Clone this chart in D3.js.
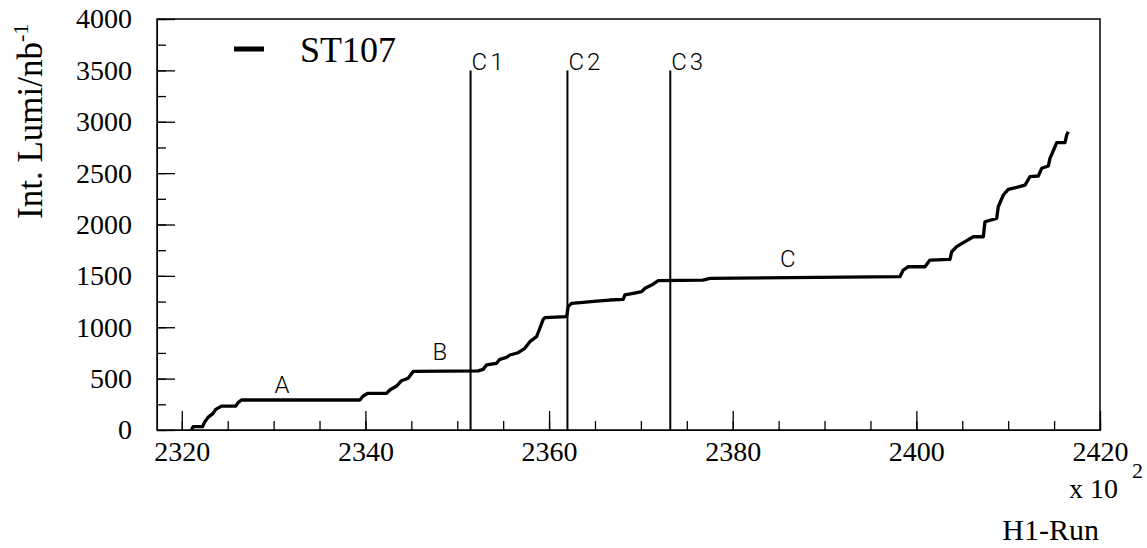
<!DOCTYPE html>
<html>
<head>
<meta charset="utf-8">
<script src="https://cdn.jsdelivr.net/npm/d3@7"></script>
<style>
  body { margin: 0; background: white; }
  svg { display: block; }
</style>
</head>
<body>
<svg id="chart" width="1147" height="548"></svg>
<script>
// H1 run number (x 100) and integrated luminosity (nb^-1)
var runs = [2321.06, 2321.23, 2322.25, 2322.51, 2322.86, 2323.41, 2323.70, 2324.32, 2325.88, 2326.13,
            2326.50, 2339.39, 2339.75, 2340.29, 2342.30, 2342.66, 2343.39, 2343.93, 2344.65, 2345.20,
            2352.28, 2352.82, 2353.19, 2354.28, 2354.64, 2355.37, 2355.73, 2356.63, 2357.36, 2357.91,
            2358.64, 2358.92, 2359.36, 2359.54, 2361.91, 2362.08, 2362.45, 2363.71, 2365.17, 2366.62,
            2368.07, 2368.26, 2369.16, 2370.08, 2370.44, 2371.17, 2371.89, 2376.75, 2377.52, 2398.21,
            2398.57, 2399.12, 2400.94, 2401.48, 2403.66, 2403.85, 2404.39, 2405.30, 2406.20, 2407.29,
            2407.47, 2408.75, 2408.92, 2409.47, 2410.01, 2410.93, 2411.83, 2412.37, 2413.28, 2413.65,
            2414.37, 2414.55, 2415.10, 2415.28, 2416.19, 2416.37, 2416.55];
var lumi = [0, 32, 32, 81, 123, 162, 201, 233, 233, 266,
            292, 292, 331, 357, 357, 389, 428, 480, 503, 570,
            575, 590, 633, 649, 688, 707, 730, 752, 795, 860,
            908, 973, 1077, 1093, 1103, 1200, 1233, 1242, 1255, 1265,
            1272, 1314, 1330, 1346, 1379, 1411, 1453, 1458, 1476, 1492,
            1557, 1589, 1589, 1654, 1661, 1735, 1784, 1833, 1881, 1881,
            2027, 2060, 2173, 2287, 2342, 2362, 2384, 2465, 2472, 2547,
            2569, 2644, 2757, 2796, 2796, 2871, 2903];

// period cuts
var cutNames = ["C1", "C2", "C3"];
var cutRuns = [2351.45, 2362.0, 2373.2];
var cutTop = 3500;

// period labels
var periodNames = ["A", "B", "C"];
var periodRuns = [2330.9, 2348.1, 2386.0];
var periodLumi = [360, 681, 1586];

var xMajor = [2320, 2340, 2360, 2380, 2400, 2420];
var yMajor = [0, 500, 1000, 1500, 2000, 2500, 3000, 3500, 4000];

var chart = d3.select("#chart");
var padL = 157, padT = 19, padR = 1100, padB = 430;

var xScale = d3.scaleLinear()
    .domain([2317.3, 2420])
    .range([padL, padR]);

var yScale = d3.scaleLinear()
    .domain([0, 4000])
    .range([padB, padT]);

var serif = "'Liberation Serif', 'Times New Roman', serif";
var sans = "Roboto, 'Liberation Sans', sans-serif";

// minor ticks
chart.append("g")
    .attr("transform", "translate(0," + padB + ")")
    .call(d3.axisBottom(xScale).tickValues(d3.range(2320, 2421, 5)).tickSize(-9).tickFormat(""))
    .call(g => g.select(".domain").remove());
chart.append("g")
    .attr("transform", "translate(" + padL + ",0)")
    .call(d3.axisLeft(yScale).tickValues(d3.range(0, 4001, 250)).tickSize(-9).tickFormat(""))
    .call(g => g.select(".domain").remove());

// major ticks with labels
var xAxis = chart.append("g")
    .attr("transform", "translate(0," + padB + ")")
    .call(d3.axisBottom(xScale).tickValues(xMajor).tickSize(-19).tickPadding(11).tickFormat(d3.format("d")));
var yAxis = chart.append("g")
    .attr("transform", "translate(" + padL + ",0)")
    .call(d3.axisLeft(yScale).tickValues(yMajor).tickSize(-18).tickPadding(25).tickFormat(d3.format("d")));

chart.selectAll(".tick line").attr("stroke", "#000").attr("stroke-width", 1.3);
chart.selectAll(".tick text")
    .style("font-family", serif)
    .style("font-size", "28px")
    .attr("fill", "#000");
xAxis.selectAll(".tick text").attr("dy", "0.7em");

// frame
chart.append("rect")
    .attr("x", padL)
    .attr("y", padT)
    .attr("width", padR - padL)
    .attr("height", padB - padT)
    .attr("fill", "none")
    .attr("stroke", "#000")
    .attr("stroke-width", 1.5);

// luminosity curve
var points = runs.map(function(r, i) { return [r, lumi[i]]; });
var line = d3.line()
    .x(function(d) { return xScale(d[0]); })
    .y(function(d) { return yScale(d[1]); });

chart.append("path")
    .datum(points)
    .attr("d", line)
    .attr("fill", "none")
    .attr("stroke", "#000")
    .attr("stroke-width", 3.3)
    .attr("stroke-linejoin", "round");

// cut lines
chart.selectAll(".cut")
    .data(cutRuns).enter()
        .append("line")
            .attr("class", "cut")
            .attr("x1", function(d) { return xScale(d); })
            .attr("x2", function(d) { return xScale(d); })
            .attr("y1", yScale(0))
            .attr("y2", yScale(cutTop))
            .attr("stroke", "#000")
            .attr("stroke-width", 2);

chart.selectAll(".cutlabel")
    .data(cutNames).enter()
        .append("text")
            .attr("class", "cutlabel")
            .text(function(d) { return d; })
            .attr("x", function(d, i) { return xScale(cutRuns[i]) + 1; })
            .attr("y", yScale(cutTop))
            .style("font-family", sans)
            .style("font-weight", 300)
            .style("font-size", "24px")
            .style("letter-spacing", "3px");

chart.selectAll(".period")
    .data(periodNames).enter()
        .append("text")
            .attr("class", "period")
            .text(function(d) { return d; })
            .attr("x", function(d, i) { return xScale(periodRuns[i]); })
            .attr("y", function(d, i) { return yScale(periodLumi[i]); })
            .style("text-anchor", "middle")
            .style("font-family", sans)
            .style("font-weight", 300)
            .style("font-size", "24px");

// legend
chart.append("line")
    .attr("x1", 234).attr("x2", 264)
    .attr("y1", 49).attr("y2", 49)
    .attr("stroke", "#000")
    .attr("stroke-width", 5);
chart.append("text")
    .text("ST107")
    .attr("x", 300)
    .attr("y", 62)
    .style("font-family", serif)
    .style("font-size", "36px");

// axis titles
var ytitle = chart.append("text")
    .attr("transform", "translate(42,219) rotate(-90)")
    .style("font-family", serif)
    .style("font-size", "35px");
ytitle.append("tspan").text("Int. Lumi/nb");
ytitle.append("tspan").text("-1").attr("dy", -14).style("font-size", "22px");

chart.append("text")
    .text("x 10")
    .attr("x", 1118)
    .attr("y", 498)
    .style("text-anchor", "end")
    .style("font-family", serif)
    .style("font-size", "28px");
chart.append("text")
    .text("2")
    .attr("x", 1132)
    .attr("y", 478)
    .style("font-family", serif)
    .style("font-size", "22px");

chart.append("text")
    .text("H1-Run")
    .attr("x", 1099)
    .attr("y", 540)
    .style("text-anchor", "end")
    .style("font-family", serif)
    .style("font-size", "30px");
</script>
</body>
</html>
